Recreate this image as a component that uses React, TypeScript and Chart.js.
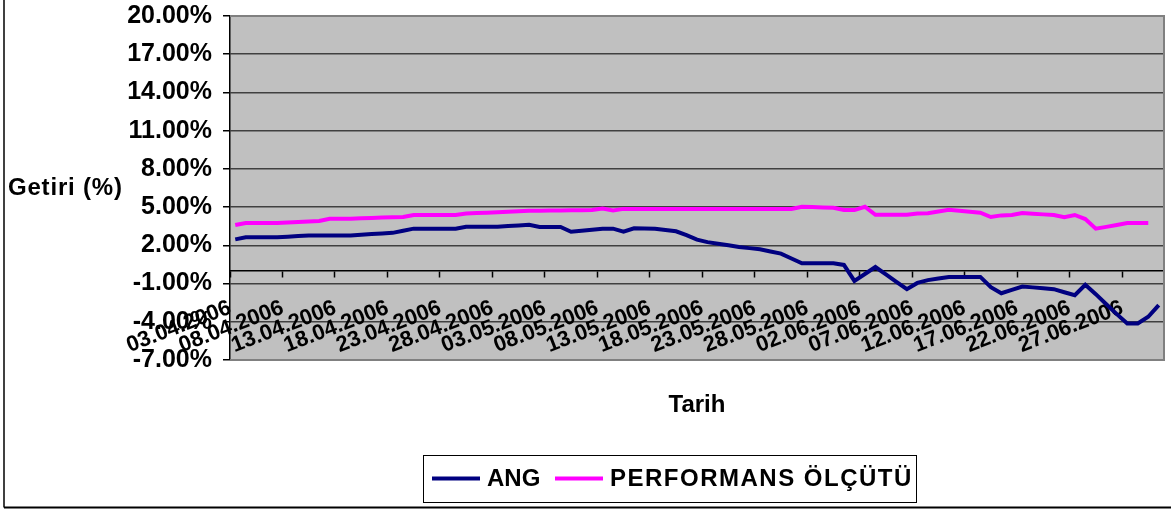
import React, { useEffect, useRef } from 'react';
import { Chart, registerables } from 'chart.js';

Chart.register(...registerables);

const CATEGORIES = [
  '03.04.2006', '04.04.2006', '05.04.2006', '06.04.2006', '07.04.2006', '08.04.2006', '09.04.2006', '10.04.2006',
  '11.04.2006', '12.04.2006', '13.04.2006', '14.04.2006', '15.04.2006', '16.04.2006', '17.04.2006', '18.04.2006',
  '19.04.2006', '20.04.2006', '21.04.2006', '22.04.2006', '23.04.2006', '24.04.2006', '25.04.2006', '26.04.2006',
  '27.04.2006', '28.04.2006', '29.04.2006', '30.04.2006',
  '01.05.2006', '02.05.2006', '03.05.2006', '04.05.2006', '05.05.2006', '06.05.2006', '07.05.2006', '08.05.2006',
  '09.05.2006', '10.05.2006', '11.05.2006', '12.05.2006', '13.05.2006', '14.05.2006', '15.05.2006', '16.05.2006',
  '17.05.2006', '18.05.2006', '19.05.2006', '20.05.2006', '21.05.2006', '22.05.2006', '23.05.2006', '24.05.2006',
  '25.05.2006', '26.05.2006', '27.05.2006', '28.05.2006', '29.05.2006', '30.05.2006', '31.05.2006',
  '01.06.2006', '02.06.2006', '03.06.2006', '04.06.2006', '05.06.2006', '06.06.2006', '07.06.2006', '08.06.2006',
  '09.06.2006', '10.06.2006', '11.06.2006', '12.06.2006', '13.06.2006', '14.06.2006', '15.06.2006', '16.06.2006',
  '17.06.2006', '18.06.2006', '19.06.2006', '20.06.2006', '21.06.2006', '22.06.2006', '23.06.2006', '24.06.2006',
  '25.06.2006', '26.06.2006', '27.06.2006', '28.06.2006', '29.06.2006', '30.06.2006',
];

const ANG = [
  2.47, 2.63, 2.63, 2.63, 2.63, 2.68, 2.73, 2.78, 2.78, 2.78,
  2.78, 2.78, 2.84, 2.89, 2.93, 2.98, 3.15, 3.31, 3.31, 3.31,
  3.31, 3.31, 3.46, 3.46, 3.46, 3.46, 3.51, 3.56, 3.62, 3.44,
  3.44, 3.44, 3.07, 3.15, 3.23, 3.31, 3.31, 3.07, 3.34, 3.33,
  3.30, 3.20, 3.10, 2.80, 2.45, 2.25, 2.12, 2.00, 1.87, 1.78,
  1.69, 1.52, 1.35, 0.97, 0.59, 0.59, 0.59, 0.59, 0.46, -0.79,
  -0.25, 0.30, -0.28, -0.86, -1.44, -0.95, -0.73, -0.60, -0.48, -0.48,
  -0.48, -0.48, -1.29, -1.76, -1.50, -1.23, -1.30, -1.37, -1.44, -1.68,
  -1.91, -1.10, -1.83, -2.62, -3.40, -4.13, -4.13, -3.61, -2.70,
];

const PERFORMANS = [
  3.59, 3.75, 3.75, 3.75, 3.75, 3.79, 3.83, 3.87, 3.91, 4.09,
  4.09, 4.09, 4.12, 4.15, 4.18, 4.20, 4.22, 4.38, 4.38, 4.38,
  4.38, 4.38, 4.50, 4.53, 4.56, 4.60, 4.64, 4.67, 4.71, 4.72,
  4.73, 4.74, 4.75, 4.76, 4.77, 4.88, 4.74, 4.86, 4.85, 4.85,
  4.85, 4.85, 4.85, 4.85, 4.85, 4.85, 4.85, 4.85, 4.85, 4.85,
  4.85, 4.85, 4.85, 4.85, 5.03, 5.00, 4.97, 4.95, 4.77, 4.77,
  5.03, 4.40, 4.40, 4.40, 4.40, 4.50, 4.52, 4.66, 4.80, 4.72,
  4.64, 4.56, 4.22, 4.35, 4.38, 4.53, 4.48, 4.43, 4.38, 4.20,
  4.38, 4.06, 3.31, 3.45, 3.60, 3.75, 3.75, 3.75, null,
];

const Y_TICKS = [-7, -4, -1, 2, 5, 8, 11, 14, 17, 20];
const SERIES_NAMES = ['ANG', 'PERFORMANS ÖLÇÜTÜ'];
const SERIES_COLORS = ['#000080', '#FF00FF'];
const Y_TITLE = 'Getiri (%)';
const X_TITLE = 'Tarih';
const LABEL_STEP = 5;

const FONT = "'Liberation Sans', Arial, sans-serif";

export default function App() {
  const ref = useRef<HTMLCanvasElement>(null);

  useEffect(() => {
    const canvas = ref.current;
    if (!canvas) return;

    const decor = {
      id: 'decor',
      beforeDraw(chart: any) {
        const { ctx, chartArea: a } = chart;
        ctx.save();
        ctx.fillStyle = '#ffffff';
        ctx.fillRect(0, 0, chart.width, chart.height);
        ctx.fillStyle = '#C0C0C0';
        ctx.fillRect(a.left, a.top, a.right - a.left, a.bottom - a.top);
        ctx.restore();
      },
      afterDraw(chart: any) {
        const { ctx, chartArea: a } = chart;
        ctx.save();
        // plot border
        ctx.strokeStyle = '#808080';
        ctx.lineWidth = 2;
        ctx.beginPath();
        ctx.moveTo(a.left, a.top);
        ctx.lineTo(a.right, a.top);
        ctx.lineTo(a.right, a.bottom);
        ctx.lineTo(a.left, a.bottom);
        ctx.stroke();
        // outer frame
        ctx.strokeStyle = '#000';
        ctx.lineWidth = 1.5;
        ctx.beginPath();
        ctx.moveTo(4, 0);
        ctx.lineTo(4, 507.5);
        ctx.stroke();
        ctx.lineWidth = 2;
        ctx.beginPath();
        ctx.moveTo(4, 507.5);
        ctx.lineTo(chart.width, 507.5);
        ctx.stroke();
        // axis titles
        ctx.fillStyle = '#000';
        ctx.font = `bold 24px ${FONT}`;
        ctx.textBaseline = 'middle';
        ctx.textAlign = 'left';
        (ctx as any).letterSpacing = '0.8px';
        ctx.fillText(Y_TITLE, 8, 188);
        (ctx as any).letterSpacing = '0px';
        ctx.textAlign = 'center';
        ctx.fillText(X_TITLE, (a.left + a.right) / 2, 405);
        // legend
        ctx.lineWidth = 1;
        ctx.strokeStyle = '#000';
        ctx.strokeRect(423.5, 455.5, 493, 47);
        const items = [
          { x: 432, tx: 487, ls: '0px' },
          { x: 555, tx: 610, ls: '1.5px' },
        ];
        items.forEach((it, i) => {
          ctx.strokeStyle = SERIES_COLORS[i];
          ctx.lineWidth = 4;
          ctx.beginPath();
          ctx.moveTo(it.x, 478.5);
          ctx.lineTo(it.x + 48, 478.5);
          ctx.stroke();
          ctx.fillStyle = '#000';
          ctx.textAlign = 'left';
          (ctx as any).letterSpacing = it.ls;
          ctx.fillText(SERIES_NAMES[i], it.tx, 479);
        });
        (ctx as any).letterSpacing = '0px';
        ctx.restore();
      },
    };

    const chart = new Chart(canvas, {
      type: 'line',
      data: {
        labels: CATEGORIES,
        datasets: [
          { label: SERIES_NAMES[0], data: ANG, borderColor: SERIES_COLORS[0], backgroundColor: SERIES_COLORS[0], borderWidth: 4, pointRadius: 0, tension: 0 },
          { label: SERIES_NAMES[1], data: PERFORMANS, borderColor: SERIES_COLORS[1], backgroundColor: SERIES_COLORS[1], borderWidth: 4, pointRadius: 0, tension: 0 },
        ],
      },
      options: {
        responsive: false,
        animation: false,
        devicePixelRatio: 1,
        layout: { padding: { left: 0, top: 16, right: 7, bottom: 152 } },
        plugins: { legend: { display: false }, tooltip: { enabled: false } },
        scales: {
          x: {
            type: 'category',
            position: { y: 0 } as any,
            offset: true,
            grid: {
              display: true, drawOnChartArea: false, drawTicks: true, tickLength: 6, offset: true, tickWidth: 1.5,
              tickColor: (c: any) => (c.index % LABEL_STEP === 0 ? '#000' : 'rgba(0,0,0,0)'),
            },
            border: { display: true, color: '#000', width: 1.5 },
            ticks: {
              autoSkip: false, maxRotation: 21, minRotation: 21, padding: 18, labelOffset: -5, color: '#000',
              font: { family: FONT, size: 22, weight: 'bold' },
              callback: (_v: any, i: number) => (i % LABEL_STEP === 0 ? CATEGORIES[i] : ''),
            },
            afterFit: (s: any) => { s.height = 0; s.paddingLeft = 0; s.paddingRight = 0; },
          },
          y: {
            min: -7, max: 20,
            afterBuildTicks: (s: any) => { s.ticks = Y_TICKS.map((v) => ({ value: v })); },
            afterFit: (s: any) => { s.width = 230; s.paddingTop = 0; s.paddingBottom = 0; },
            grid: {
              color: (c: any) => c.tick && (c.tick.value === 20 || c.tick.value === -7) ? '#808080' : '#404040',
              lineWidth: 1.5, tickLength: 7, tickColor: '#000', drawTicks: true,
            },
            border: { display: true, color: '#000', width: 1.5 },
            ticks: {
              padding: 11, color: '#000', font: { family: FONT, size: 25, weight: 'bold' },
              callback: (v: any) => Number(v).toFixed(2) + '%',
            },
          },
        },
      },
      plugins: [decor],
    } as any);

    return () => chart.destroy();
  }, []);

  return (
    <div style={{ position: 'fixed', left: 0, top: 0, width: 1171, height: 512, background: '#fff' }}>
      <canvas ref={ref} width={1171} height={512} style={{ display: 'block', width: 1171, height: 512 }} />
    </div>
  );
}
